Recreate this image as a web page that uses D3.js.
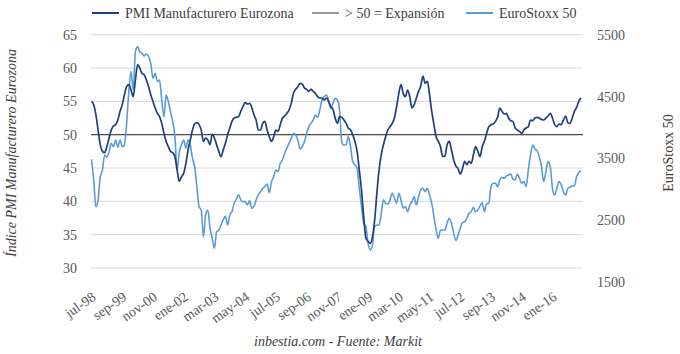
<!DOCTYPE html>
<html><head><meta charset="utf-8">
<script src="https://cdn.jsdelivr.net/npm/d3@7"></script>
<style>
body{margin:0;background:#fff;}
svg text{font-family:"Liberation Serif","Times New Roman",serif;}
</style></head>
<body><svg id="c" width="680" height="354"></svg>
<script>
// ---- DATA (monthly, jul-98 .. feb-17) ----
const tickLabels = ["jul-98","sep-99","nov-00","ene-02","mar-03","may-04","jul-05","sep-06","nov-07","ene-09","mar-10","may-11","jul-12","sep-13","nov-14","ene-16"];
const tickStep = 14;
const leftTicks = [30,35,40,45,50,55,60,65];
const rightTicks = [1500,2500,3500,4500,5500];
const threshold = 50;
const seriesNames = ["PMI Manufacturero Eurozona","> 50 = Expansión","EuroStoxx 50"];
const pmi = [
55.0,54.5,53.0,50.7,48.5,47.5,47.3,48.2,49.5,50.7,51.3,51.5,52.2,53.5,54.5,56.0,57.2,57.5,56.7,55.7,
58.2,60.5,60.0,59.2,59.0,58.2,57.2,56.0,55.0,54.0,53.2,52.7,51.7,50.2,49.0,48.2,47.5,47.3,46.7,44.7,
43.0,43.7,44.2,45.7,47.7,49.2,50.7,51.6,51.8,51.5,50.7,49.0,49.5,49.2,48.5,50.1,49.5,48.5,47.5,46.7,
47.7,48.7,50.0,51.0,52.0,52.5,52.6,52.7,53.5,54.2,54.8,54.6,54.7,54.1,53.0,52.2,50.7,50.7,51.7,52.0,
50.7,49.7,49.0,49.7,50.7,50.5,51.5,52.5,52.8,53.2,53.7,54.7,56.2,56.8,57.2,57.7,57.6,57.0,56.8,56.5,
56.8,56.5,56.2,55.7,55.5,55.5,55.2,55.5,55.0,54.2,53.8,52.5,51.7,52.7,52.6,52.2,51.7,51.0,50.7,50.0,
49.0,47.5,44.7,41.7,37.7,34.5,34.0,33.7,34.7,37.2,41.2,44.7,47.0,48.5,49.7,50.7,51.2,51.7,52.5,54.2,
56.2,57.5,56.2,55.7,56.7,55.7,54.0,54.5,55.5,56.5,57.3,58.8,57.7,58.0,56.0,53.5,51.5,49.7,49.0,48.2,
46.7,46.8,48.5,49.0,47.7,46.2,45.3,44.9,44.1,44.9,46.0,45.5,46.0,45.7,47.0,48.2,47.5,46.7,48.2,49.0,
50.2,51.2,51.5,51.6,52.0,52.6,54.0,53.5,53.1,53.2,52.5,52.1,52.0,51.0,50.7,50.5,50.2,50.7,51.0,51.2,
52.2,52.1,52.5,52.6,52.5,52.3,52.2,52.5,52.8,53.2,52.5,51.5,51.2,51.6,51.5,52.2,52.8,51.8,51.7,52.5,
53.5,54.1,55.0,55.5];
const stoxx = [
3485,3150,2717,2826,3204,3312,3555,3517,3609,3744,3690,3798,3679,3798,3690,3717,4068,4582,4906,4609,
5230,5311,5230,5203,5160,5192,5149,5041,4798,4879,4744,4771,4446,4176,4527,4419,4257,4095,3852,3312,
3609,3717,3798,3663,3798,3717,3501,3366,3042,2717,2663,2231,2582,2663,2370,2204,2042,2312,2339,2420,
2501,2566,2420,2582,2636,2772,2836,2907,2826,2798,2798,2744,2815,2690,2717,2826,2907,2961,3015,3042,
3085,2944,3123,3204,3312,3285,3420,3474,3582,3663,3744,3825,3906,3879,3798,3647,3690,3771,3906,4014,
4068,4122,4203,4165,4284,4446,4500,4527,4446,4311,4392,4473,4446,4284,3771,3717,3717,3852,3690,3447,
3393,3339,3015,2717,2447,2393,2123,2015,2096,2393,2420,2420,2609,2826,2772,2761,2826,2934,2853,2772,
2934,2826,2690,2717,2636,2744,2798,2880,2744,2880,2988,3015,2961,3015,2907,2772,2555,2339,2204,2339,
2339,2339,2447,2528,2447,2285,2170,2258,2366,2458,2469,2528,2609,2636,2707,2636,2663,2728,2782,2636,
2761,2772,3042,3096,3096,3042,3150,3193,3177,3215,3231,3247,3161,3150,3247,3177,3096,3123,3042,3312,
3555,3717,3652,3625,3528,3366,3123,3285,3447,3366,3015,2907,3015,3123,3069,2961,2907,3015,3031,3052,
3052,3204,3269,3301];

// ---- CHART ----
const svg = d3.select("#c");
const plot = {left:91, right:583, top:34.7, bottom:268};
const colors = {pmi:"#203f7d", stoxx:"#5b9bd5", thr:"#4d4d4d", grid:"#d9d9d9", text:"#595959"};

const x = d3.scaleLinear().domain([0, pmi.length-1]).range([91.5, 581]);
const yL = d3.scaleLinear().domain([30,65]).range([plot.bottom, plot.top]);
const yR = d3.scaleLinear().domain([1500,5500]).range([281.7, 35]);

// gridlines
svg.append("g").selectAll("line").data(leftTicks).join("line")
  .attr("x1",plot.left).attr("x2",plot.right)
  .attr("y1",d=>yL(d)).attr("y2",d=>yL(d))
  .attr("stroke",colors.grid).attr("stroke-width",1);

// left axis
const gL = svg.append("g").attr("transform",`translate(${plot.left-14},0)`)
  .call(d3.axisLeft(yL).tickValues(leftTicks).tickSize(0).tickPadding(0));
gL.select(".domain").remove();
gL.selectAll("text").attr("fill",colors.text).style("font-size","14px");

// right axis
const gR = svg.append("g").attr("transform",`translate(597,0)`)
  .call(d3.axisRight(yR).tickValues(rightTicks).tickFormat(d3.format("d")).tickSize(0).tickPadding(0));
gR.select(".domain").remove();
gR.selectAll("text").attr("fill",colors.text).style("font-size","14px");

// bottom axis
const gB = svg.append("g").attr("transform",`translate(0,${plot.bottom})`)
  .call(d3.axisBottom(x).tickValues(d3.range(0,pmi.length,tickStep)).tickFormat((d,i)=>tickLabels[i]).tickSize(0).tickPadding(0));
gB.select(".domain").remove();
gB.selectAll("text")
  .attr("fill",colors.text).style("font-size","14px")
  .attr("text-anchor","end").attr("dy","0.35em").attr("y",0)
  .attr("transform","translate(2,27) rotate(-35)");

// threshold line
svg.append("line").attr("x1",plot.left).attr("x2",plot.right)
  .attr("y1",yL(threshold)).attr("y2",yL(threshold))
  .attr("stroke",colors.thr).attr("stroke-width",1.2);

// series
svg.append("path").datum(stoxx)
  .attr("d",d3.line().x((d,i)=>x(i)).y(d=>yR(d)).curve(d3.curveMonotoneX))
  .attr("fill","none").attr("stroke",colors.stoxx).attr("stroke-width",1.6);
svg.append("path").datum(pmi)
  .attr("d",d3.line().x((d,i)=>x(i)).y(d=>yL(d)).curve(d3.curveMonotoneX))
  .attr("fill","none").attr("stroke",colors.pmi).attr("stroke-width",1.7);

// legend
const legItems = [
  {name:seriesNames[0], color:colors.pmi, x:92},
  {name:seriesNames[1], color:"#9a9a9a", x:312},
  {name:seriesNames[2], color:colors.stoxx, x:466}
];
const leg = svg.append("g").selectAll("g").data(legItems).join("g")
  .attr("transform",d=>`translate(${d.x},13)`);
leg.append("line").attr("x1",0).attr("x2",27).attr("stroke",d=>d.color).attr("stroke-width",2);
leg.append("text").attr("x",33).attr("dy","0.35em").text(d=>d.name)
  .attr("fill","#404040").style("font-size","14px");

// axis titles
svg.append("text").attr("transform","translate(16,153) rotate(-90)")
  .attr("text-anchor","middle").style("font-size","14px").style("font-style","italic")
  .attr("fill","#404040").text("Índice PMI Manufacturero Eurozona");
svg.append("text").attr("transform","translate(673,153) rotate(-90)")
  .attr("text-anchor","middle").style("font-size","14px")
  .attr("fill","#404040").text("EuroStoxx 50");

// caption
svg.append("text").attr("x",338).attr("y",346).attr("text-anchor","middle")
  .style("font-size","14px").style("font-style","italic").attr("fill","#404040")
  .text("inbestia.com - Fuente: Markit");
</script></body></html>
